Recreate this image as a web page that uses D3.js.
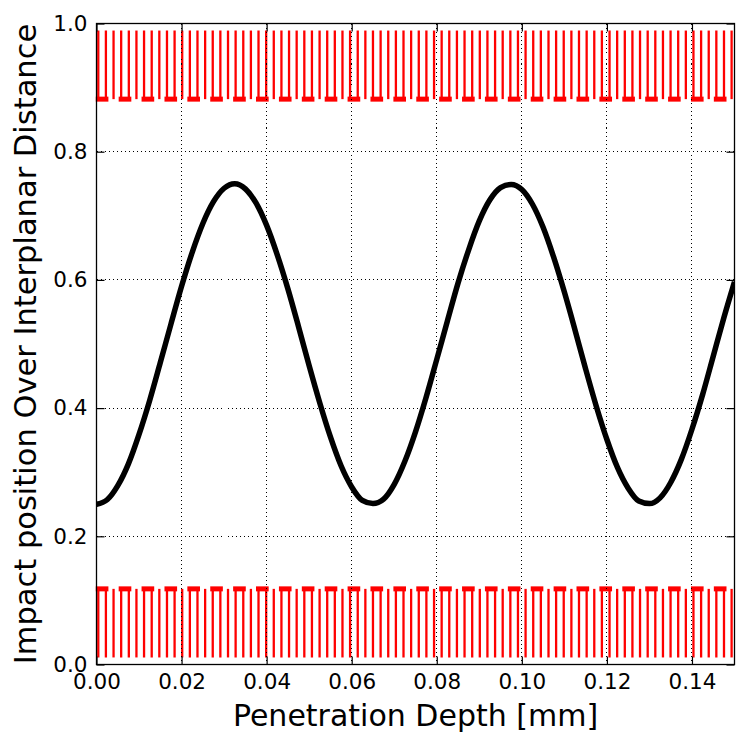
<!DOCTYPE html>
<html>
<head>
<meta charset="utf-8">
<script src="https://cdn.jsdelivr.net/npm/d3@7"></script>
<style>
  body { margin: 0; background: #fff; }
  svg { display: block; font-family: "DejaVu Sans", sans-serif; }
</style>
</head>
<body>
<script>
// penetration depth [mm] and impact position / interplanar distance
var depth = [0, 0.0025, 0.005, 0.0075, 0.01, 0.0125, 0.015, 0.0175, 0.02, 0.0225,
    0.025, 0.0275, 0.03, 0.0325, 0.035, 0.0375, 0.04, 0.0425, 0.045, 0.0475,
    0.05, 0.0525, 0.055, 0.0575, 0.06, 0.0625, 0.065, 0.0675, 0.07, 0.0725,
    0.075, 0.0775, 0.08, 0.0825, 0.085, 0.0875, 0.09, 0.0925, 0.095, 0.0975,
    0.1, 0.1025, 0.105, 0.1075, 0.11, 0.1125, 0.115, 0.1175, 0.12, 0.1225,
    0.125, 0.1275, 0.13, 0.1325, 0.135, 0.1375, 0.14, 0.1425, 0.145, 0.1475, 0.15];
var impact = [0.250, 0.257, 0.279, 0.313, 0.359, 0.412, 0.471, 0.531, 0.590, 0.643,
    0.688, 0.722, 0.743, 0.750, 0.742, 0.720, 0.685, 0.639, 0.586, 0.527,
    0.466, 0.408, 0.355, 0.310, 0.277, 0.256, 0.251, 0.258, 0.281, 0.317,
    0.363, 0.417, 0.476, 0.536, 0.595, 0.647, 0.692, 0.725, 0.744, 0.749,
    0.741, 0.718, 0.682, 0.635, 0.581, 0.522, 0.461, 0.403, 0.351, 0.307,
    0.275, 0.255, 0.251, 0.260, 0.284, 0.320, 0.367, 0.421, 0.481, 0.541, 0.597];

// red comb marks: x of each tooth (pairs joined at the base, then a single)
var combX = [0.00042, 0.00221, 0.00401, 0.00580, 0.00760, 0.00939, 0.01118, 0.01298, 0.01477,
    0.01657, 0.01836, 0.02015, 0.02195, 0.02374, 0.02554, 0.02733, 0.02912, 0.03092,
    0.03271, 0.03451, 0.03630, 0.03809, 0.03989, 0.04168, 0.04348, 0.04527, 0.04706,
    0.04886, 0.05065, 0.05245, 0.05424, 0.05603, 0.05783, 0.05962, 0.06142, 0.06321,
    0.06500, 0.06680, 0.06859, 0.07039, 0.07218, 0.07397, 0.07577, 0.07756, 0.07936,
    0.08115, 0.08294, 0.08474, 0.08653, 0.08833, 0.09012, 0.09191, 0.09371, 0.09550,
    0.09730, 0.09909, 0.10088, 0.10268, 0.10447, 0.10627, 0.10806, 0.10985, 0.11165,
    0.11344, 0.11524, 0.11703, 0.11882, 0.12062, 0.12241, 0.12421, 0.12600, 0.12779,
    0.12959, 0.13138, 0.13318, 0.13497, 0.13676, 0.13856, 0.14035, 0.14215, 0.14394,
    0.14573, 0.14753, 0.14932];
var topComb = [0.989, 0.882];    // tip, base
var bottomComb = [0.011, 0.118]; // tip, base

var xTicks = [0, 0.02, 0.04, 0.06, 0.08, 0.10, 0.12, 0.14];
var yTicks = [0, 0.2, 0.4, 0.6, 0.8, 1.0];

var width = 736,
    height = 732,
    plotL = 96.5, plotR = 734.5, plotT = 23.5, plotB = 664.5;

var svg = d3.select("body").append("svg")
    .attr("width", width)
    .attr("height", height);

var x = d3.scaleLinear().domain([0, 0.15]).range([plotL, plotR]);
var y = d3.scaleLinear().domain([0, 1]).range([plotB, plotT]);

// red combs
function drawComb(levels) {
    var tip = y(levels[0]), base = y(levels[1]);
    var g = svg.append("g").attr("fill", "none").attr("stroke", "#ff0000");
    for (var i = 0; i < combX.length; i++) {
        var a = x(combX[i]);
        if (i % 3 === 0 && i + 1 < combX.length) {
            var b = x(combX[i + 1]);
            g.append("path")
                .attr("d", "M" + a + "," + tip + "V" + base + "H" + b + "V" + tip)
                .attr("stroke-width", 2.3);
            g.append("line")
                .attr("x1", a).attr("x2", b)
                .attr("y1", base).attr("y2", base)
                .attr("stroke-width", 5)
                .attr("stroke-linecap", "square");
        } else if (i % 3 === 2) {
            g.append("line")
                .attr("x1", a).attr("x2", a)
                .attr("y1", tip).attr("y2", base)
                .attr("stroke-width", 2.3);
        }
    }
}
drawComb(topComb);
drawComb(bottomComb);

// black curve
var line = d3.line()
    .x(function (d, i) { return x(depth[i]); })
    .y(function (d) { return y(d); })
    .curve(d3.curveMonotoneX);

svg.append("defs").append("clipPath").attr("id", "clip")
    .append("rect").attr("x", plotL).attr("y", plotT)
    .attr("width", plotR - plotL).attr("height", plotB - plotT);

svg.append("path")
    .datum(impact)
    .attr("clip-path", "url(#clip)")
    .attr("fill", "none")
    .attr("stroke", "#000")
    .attr("stroke-width", 5.5)
    .attr("stroke-linejoin", "round")
    .attr("d", line);

// dotted grid
var grid = svg.append("g").attr("stroke", "#000").attr("stroke-width", 1)
    .attr("stroke-dasharray", "1,3")
    .attr("shape-rendering", "crispEdges");
xTicks.forEach(function (t) {
    grid.append("line").attr("x1", x(t)).attr("x2", x(t)).attr("y1", plotT).attr("y2", plotB);
});
yTicks.forEach(function (t) {
    grid.append("line").attr("x1", plotL).attr("x2", plotR).attr("y1", y(t)).attr("y2", y(t));
});

// axes with inward ticks on all four sides
function styleAxis(g) {
    g.select(".domain").remove();
    g.selectAll(".tick line").attr("stroke", "#000").attr("stroke-width", 1.2);
    g.selectAll(".tick text").attr("fill", "#000").attr("font-size", "21.5px")
        .attr("font-family", "DejaVu Sans");
}

svg.append("g")
    .attr("transform", "translate(0," + plotB + ")")
    .call(d3.axisBottom(x).tickValues(xTicks).tickFormat(d3.format(".2f"))
        .tickSizeInner(-8).tickSizeOuter(0).tickPadding(9))
    .call(styleAxis);

svg.append("g")
    .attr("transform", "translate(0," + plotT + ")")
    .call(d3.axisTop(x).tickValues(xTicks).tickFormat("")
        .tickSizeInner(-8).tickSizeOuter(0))
    .call(styleAxis);

svg.append("g")
    .attr("transform", "translate(" + plotL + ",0)")
    .call(d3.axisLeft(y).tickValues(yTicks).tickFormat(d3.format(".1f"))
        .tickSizeInner(-8).tickSizeOuter(0).tickPadding(9))
    .call(styleAxis);

svg.append("g")
    .attr("transform", "translate(" + plotR + ",0)")
    .call(d3.axisRight(y).tickValues(yTicks).tickFormat("")
        .tickSizeInner(-8).tickSizeOuter(0))
    .call(styleAxis);

// frame
svg.append("rect")
    .attr("x", plotL).attr("y", plotT)
    .attr("width", plotR - plotL).attr("height", plotB - plotT)
    .attr("fill", "none")
    .attr("stroke", "#000")
    .attr("stroke-width", 1.3);

// axis titles
svg.append("text")
    .attr("x", (plotL + plotR) / 2)
    .attr("y", 726)
    .attr("text-anchor", "middle")
    .attr("font-size", "30px")
    .text("Penetration Depth [mm]");

svg.append("text")
    .attr("transform", "translate(36," + (plotT + plotB) / 2 + ") rotate(-90)")
    .attr("text-anchor", "middle")
    .attr("font-size", "30.5px")
    .text("Impact position Over Interplanar Distance");
</script>
</body>
</html>
